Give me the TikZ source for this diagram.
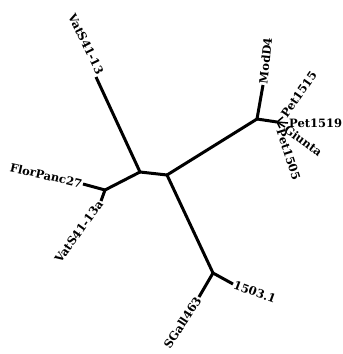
\documentclass[tikz,border=0pt]{standalone}
\usepackage{fontspec}
\setmainfont{DejaVu Serif}
\begin{document}
\begin{tikzpicture}[x=1pt,y=-1pt,
  edge/.style={line width=3pt},
  twig/.style={line width=1.5pt},
  lab/.style={font=\fontsize{11.5}{12}\selectfont\bfseries, inner sep=1pt}]
\useasboundingbox (0,0) rectangle (343,354);
% internal nodes
\coordinate (A) at (140,172);
\coordinate (B) at (167,175);
\coordinate (C) at (105,190);
\coordinate (D) at (257,119);
\coordinate (F) at (277,122);
\coordinate (E) at (213,273);
% tips
\coordinate (t1) at (96,77);
\coordinate (t2) at (83,184);
\coordinate (t3) at (101,201);
\coordinate (t4) at (263,85);
\coordinate (t5) at (283,117);
\coordinate (t6) at (288,123);
\coordinate (t7) at (285,127);
\coordinate (t8) at (280,128);
\coordinate (t9) at (199,297);
\coordinate (t10) at (233,284);
% edges
\draw[edge] (t1) -- (A);
\draw[edge] (A) -- (B);
\draw[edge] (A) -- (C);
\draw[edge] (C) -- (t2);
\draw[edge] (C) -- (t3);
\draw[edge] (B) -- (D);
\draw[edge] (D) -- (t4);
\draw[edge] (D) -- (F);
\draw[twig] (F) -- (t5);
\draw[twig] (F) -- (t6);
\draw[twig] (F) -- (t7);
\draw[twig] (F) -- (t8);
\draw[edge] (B) -- (E);
\draw[edge] (E) -- (t9);
\draw[edge] (E) -- (t10);
% labels
\node[lab,anchor=south east,rotate=-64] (l1) at (t1) {VatS41-13};
\node[lab,anchor=east,rotate=-13] (l2) at (t2) {FlorPanc27};
\node[lab,anchor=east,rotate=54] (l3) at (t3) {VatS41-13a};
\node[lab,anchor=west,rotate=84] (l4) at (t4) {ModD4};
\node[lab,anchor=west,rotate=55] (l5) at (t5) {Pet1515};
\node[lab,anchor=west] (l6) at (t6) {Pet1519};
\node[lab,anchor=west,rotate=-37] (l7) at (t7) {Giunta};
\node[lab,anchor=west,rotate=-72] (l8) at (t8) {Pet1505};
\node[lab,anchor=east,rotate=57] (l9) at (t9) {SGall463};
\node[lab,anchor=west,rotate=-20] (l10) at (t10) {1503.1};
\end{tikzpicture}
\end{document}
